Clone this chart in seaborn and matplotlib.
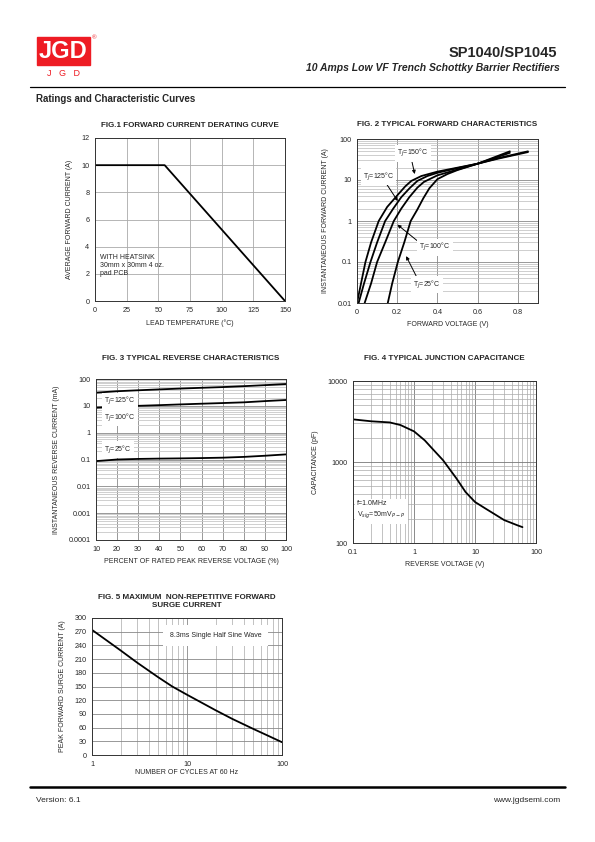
import numpy as np
import pandas as pd
import matplotlib.pyplot as plt
import matplotlib.patches as mpatches
import seaborn as sns

# ---- data ----
# Fig.1 derating
temp = [0, 55, 150]
amps = [10, 10, 0]

# Fig.2 forward characteristics (V, A)
vf_25 = [0.153, 0.175, 0.203, 0.235, 0.267, 0.30, 0.33, 0.36, 0.40, 0.45, 0.50, 0.60, 0.70, 0.85]
if_25 = [0.01, 0.03, 0.1, 0.3, 1, 1.9, 3.6, 6.3, 10.5, 14, 17.5, 25, 34, 50]
vf_100 = [0.038, 0.07, 0.10, 0.14, 0.183, 0.22, 0.26, 0.30, 0.333, 0.40, 0.50, 0.60, 0.70, 0.85]
if_100 = [0.01, 0.03, 0.1, 0.3, 1, 2, 3.8, 6.5, 9, 13, 18, 25, 33, 48]
vf_125 = [0.008, 0.035, 0.067, 0.10, 0.14, 0.18, 0.22, 0.26, 0.30, 0.35, 0.40, 0.50, 0.60, 0.76]
if_125 = [0.01, 0.03, 0.1, 0.3, 1, 2, 3.8, 6.2, 9.5, 12.5, 15, 19.5, 25, 46]
vf_150 = [0.0, 0.02, 0.042, 0.07, 0.108, 0.15, 0.20, 0.24, 0.27, 0.32, 0.40, 0.50, 0.60, 0.76]
if_150 = [0.01, 0.03, 0.1, 0.3, 1, 2.2, 4.2, 7, 9.5, 12.5, 16, 20, 25, 50]

# Fig.3 reverse characteristics (% VRRM, mA)
pct = [10, 20, 30, 40, 50, 60, 70, 80, 90, 100]
ir_125 = [31, 35, 38, 41, 44, 47, 50, 54, 59, 65]
ir_100 = [8.5, 9.3, 10, 10.6, 11.3, 12, 12.7, 13.5, 15, 16.5]
ir_25 = [0.087, 0.1, 0.105, 0.108, 0.11, 0.113, 0.117, 0.125, 0.138, 0.155]

# Fig.4 junction capacitance (V, pF)
vr = [0.1, 0.2, 0.4, 0.6, 1, 1.5, 2, 3, 5, 7, 10, 15, 20, 30, 50, 60]
cap = [3360, 3180, 3080, 2860, 2390, 1850, 1460, 1050, 622, 426, 321, 265, 232, 192, 165, 157]

# Fig.5 surge current (cycles, A)
cycles = [1, 2, 3, 5, 7, 10, 20, 30, 50, 70, 100]
surge = [274, 229, 202, 170, 150, 132, 98, 79, 57, 43, 28]

W, H = 595, 842
sns.set_theme(style='white')
plt.rcParams['font.family'] = ['Liberation Sans', 'DejaVu Sans']
plt.rcParams['axes.edgecolor'] = '#333333'
plt.rcParams['axes.linewidth'] = 0.7

fig = plt.figure(figsize=(W / 100, H / 100), dpi=100)

# background axes in pixel coordinates for page furniture
bg = fig.add_axes([0, 0, 1, 1], zorder=0)
bg.set_xlim(0, W)
bg.set_ylim(H, 0)
bg.axis('off')

bg.add_patch(mpatches.Rectangle((37, 37), 53, 28, color='#ee1c24'))
bg.text(63.5, 52, 'JGD', color='white', fontsize=17, fontweight='bold', ha='center', va='center')
bg.text(94, 38, '®', color='#ee1c24', fontsize=4.5, ha='center', va='center')
bg.text(63.5, 74, 'J   G   D', color='#ee1c24', fontsize=6.5, ha='center', va='center')
bg.text(557, 53, 'SP1040/SP1045', fontsize=10.5, fontweight='bold', ha='right', va='center')
bg.text(560, 68, '10 Amps Low VF Trench Schottky Barrier Rectifiers', fontsize=7.5,
        fontweight='bold', style='italic', ha='right', va='center')
bg.plot([30, 565], [87, 87], color='black', lw=0.9)
bg.text(36, 99, 'Ratings and Characteristic Curves', fontsize=7, fontweight='bold', va='center')
bg.plot([30, 565], [787, 787], color='black', lw=1.8)
bg.text(36, 800, 'Version: 6.1', fontsize=6, va='center')
bg.text(560, 800, 'www.jgdsemi.com', fontsize=6, ha='right', va='center')


def ax_at(l, t, r, b):
    return fig.add_axes([l / W, 1 - b / H, (r - l) / W, (b - t) / H], zorder=1)


def style(ax, title, xlabel, ylabel, title_y):
    ax.tick_params(labelsize=5.2, length=0, pad=4)
    ax.set_xlabel(xlabel, fontsize=5, labelpad=4)
    ax.set_ylabel(ylabel, fontsize=5, labelpad=6)
    ax.set_title(title, fontsize=5.8, fontweight='bold', pad=title_y)
    for s in ax.spines.values():
        s.set_visible(True)


def label(ax, x, y, temp_txt, fs=5):
    ax.text(x, y, 'T$_J$=' + temp_txt + '°C', fontsize=fs, ha='left', va='center',
            bbox=dict(facecolor='white', edgecolor='none', pad=1.5), zorder=5)


# ---- Fig.1 ----
ax1 = ax_at(95, 138, 285, 301)
sns.lineplot(x=temp, y=amps, ax=ax1, color='black', lw=1.3, estimator=None, sort=False)
ax1.set_xlim(0, 150)
ax1.set_ylim(0, 12)
ax1.set_xticks(range(0, 151, 25))
ax1.set_yticks(range(0, 13, 2))
ax1.grid(True, color='#aaaaaa', lw=0.6)
ax1.text(4, 2.6, 'WITH HEATSINK\n30mm x 30mm 4 oz.\npad PCB', fontsize=5, va='center',
         linespacing=1.2)
style(ax1, 'FIG.1 FORWARD CURRENT DERATING CURVE', 'LEAD TEMPERATURE (°C)',
      'AVERAGE FORWARD CURRENT (A)', 8)

# ---- Fig.2 ----
ax2 = ax_at(357, 139, 538, 303)
for v, i in [(vf_25, if_25), (vf_100, if_100), (vf_125, if_125), (vf_150, if_150)]:
    sns.lineplot(x=v, y=i, ax=ax2, color='black', lw=1.3, estimator=None, sort=False)
ax2.set_yscale('log')
ax2.set_xlim(0, 0.9)
ax2.set_ylim(0.01, 100)
ax2.set_xticks([0, 0.2, 0.4, 0.6, 0.8])
ax2.set_xticklabels(['0', '0.2', '0.4', '0.6', '0.8'])
ax2.set_yticks([0.01, 0.1, 1, 10, 100])
ax2.set_yticklabels(['0.01', '0.1', '1', '10', '100'])
ax2.grid(True, which='major', color='#888888', lw=0.6)
ax2.grid(True, which='minor', axis='y', color='#bbbbbb', lw=0.5)
label(ax2, 0.2, 45, '150')
label(ax2, 0.03, 12, '125')
label(ax2, 0.31, 0.23, '100')
label(ax2, 0.28, 0.028, '25')
arrow = dict(arrowstyle='-|>', color='black', lw=0.7, mutation_scale=5)
ax2.annotate('', xy=(0.29, 12), xytext=(0.27, 33), arrowprops=arrow)
ax2.annotate('', xy=(0.21, 2.7), xytext=(0.14, 9), arrowprops=arrow)
ax2.annotate('', xy=(0.19, 0.9), xytext=(0.31, 0.3), arrowprops=arrow)
ax2.annotate('', xy=(0.238, 0.16), xytext=(0.3, 0.04), arrowprops=arrow)
style(ax2, 'FIG. 2 TYPICAL FORWARD CHARACTERISTICS', 'FORWARD VOLTAGE (V)',
      'INSTANTANEOUS FORWARD CURRENT (A)', 9)

# ---- Fig.3 ----
ax3 = ax_at(96, 379, 286, 540)
for i in [ir_125, ir_100, ir_25]:
    sns.lineplot(x=pct, y=i, ax=ax3, color='black', lw=1.3, estimator=None, sort=False)
ax3.set_yscale('log')
ax3.set_xlim(10, 100)
ax3.set_ylim(0.0001, 100)
ax3.set_xticks(range(10, 101, 10))
ax3.set_yticks([0.0001, 0.001, 0.01, 0.1, 1, 10, 100])
ax3.set_yticklabels(['0.0001', '0.001', '0.01', '0.1', '1', '10', '100'])
ax3.grid(True, which='major', color='#888888', lw=0.6)
ax3.grid(True, which='minor', axis='y', color='#c8c8c8', lw=0.6)
label(ax3, 14, 15, '125')
label(ax3, 14, 3.6, '100')
label(ax3, 14, 0.24, '25')
style(ax3, 'FIG. 3 TYPICAL REVERSE CHARACTERISTICS', 'PERCENT OF RATED PEAK REVERSE VOLTAGE (%)',
      'INSTANTANEOUS REVERSE CURRENT (mA)', 14)

# ---- Fig.4 ----
ax4 = ax_at(353, 381, 536, 543)
sns.lineplot(x=vr, y=cap, ax=ax4, color='black', lw=1.3, estimator=None, sort=False)
ax4.set_xscale('log')
ax4.set_yscale('log')
ax4.set_xlim(0.1, 100)
ax4.set_ylim(100, 10000)
ax4.set_xticks([0.1, 1, 10, 100])
ax4.set_xticklabels(['0.1', '1', '10', '100'])
ax4.set_yticks([100, 1000, 10000])
ax4.set_yticklabels(['100', '1000', '10000'])
ax4.grid(True, which='major', color='#777777', lw=0.6)
ax4.grid(True, which='minor', color='#aaaaaa', lw=0.5)
ax4.text(0.118, 250, 'f=1.0MHz\nV$_{sig}$=50mV$_{P-P}$', fontsize=5, va='center', linespacing=1.4,
         bbox=dict(facecolor='white', edgecolor='none', pad=2), zorder=5)
style(ax4, 'FIG. 4 TYPICAL JUNCTION CAPACITANCE', 'REVERSE VOLTAGE (V)', 'CAPACITANCE (pF)', 15)

# ---- Fig.5 ----
ax5 = ax_at(92, 618, 282, 755)
sns.lineplot(x=cycles, y=surge, ax=ax5, color='black', lw=1.3, estimator=None, sort=False)
ax5.set_xscale('log')
ax5.set_xlim(1, 100)
ax5.set_ylim(0, 300)
ax5.set_xticks([1, 10, 100])
ax5.set_xticklabels(['1', '10', '100'])
ax5.set_yticks(range(0, 301, 30))
ax5.grid(True, which='major', color='#888888', lw=0.6)
ax5.grid(True, which='minor', axis='x', color='#aaaaaa', lw=0.5)
ax5.text(20, 262, '8.3ms Single Half Sine Wave', fontsize=5, ha='center', va='center',
         bbox=dict(facecolor='white', edgecolor='none', pad=5), zorder=5)
style(ax5, 'FIG. 5 MAXIMUM  NON-REPETITIVE FORWARD\nSURGE CURRENT', 'NUMBER OF CYCLES AT 60 Hz',
      'PEAK FORWARD SURGE CURRENT (A)', 8)
ax5.xaxis.labelpad = 1

fig.savefig('out.png', dpi=100)
